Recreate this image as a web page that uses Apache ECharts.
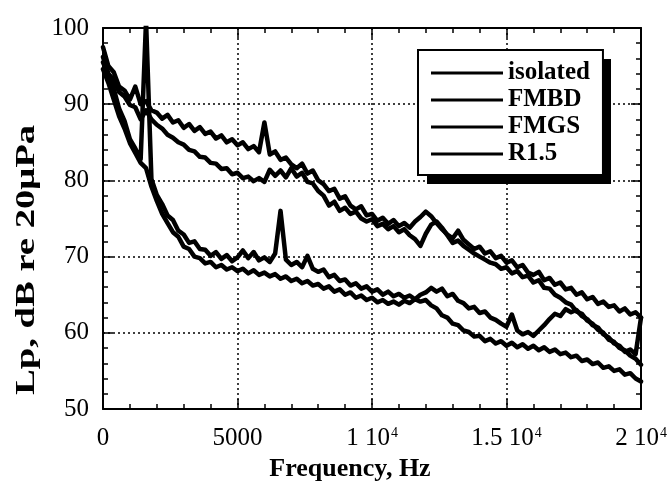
<!DOCTYPE html>
<html><head><meta charset="utf-8">
<script src="https://cdn.jsdelivr.net/npm/echarts@6/dist/echarts.min.js"></script>
<style>html,body{margin:0;padding:0;background:#fff}#c{width:672px;height:488px}</style>
</head><body><div id="c"></div>
<script>
const seriesNames = ['isolated', 'FMBD', 'FMGS', 'R1.5'];
const xTickLabels = ['0', '5000', '1 10^4', '1.5 10^4', '2 10^4'];
const yTickLabels = ['50', '60', '70', '80', '90', '100'];
const freqHz = [0,200,400,600,800,1000,1200,1400,1600,1800,2000,2200,2400,2600,2800,3000,3200,3400,3600,3800,
4000,4200,4400,4600,4800,5000,5200,5400,5600,5800,6000,6200,6400,6600,6800,7000,7200,7400,7600,7800,
8000,8200,8400,8600,8800,9000,9200,9400,9600,9800,10000,10200,10400,10600,10800,11000,11200,11400,11600,11800,
12000,12200,12400,12600,12800,13000,13200,13400,13600,13800,14000,14200,14400,14600,14800,15000,15200,15400,15600,15800,
16000,16200,16400,16600,16800,17000,17200,17400,17600,17800,18000,18200,18400,18600,18800,19000,19200,19400,19600,19800,20000];
const isolated = [97.5,95.0,94.2,92.3,91.8,90.6,92.3,90.0,90.4,89.2,88.9,88.1,88.6,87.6,87.9,86.9,87.4,86.5,87.0,86.1,
86.4,85.5,85.9,85.0,85.4,84.6,85.0,84.1,84.5,83.7,87.6,83.4,83.8,82.7,83.0,82.1,81.6,82.2,80.9,81.3,
80.0,79.5,78.6,78.9,77.6,77.9,76.7,76.2,76.6,75.4,75.6,74.7,75.1,74.3,74.8,74.0,74.4,73.8,74.6,75.2,
75.9,75.3,74.4,73.6,72.9,72.4,73.4,72.2,71.6,71.0,71.3,70.4,70.7,69.8,70.1,69.2,69.5,68.6,68.9,67.9,
67.6,68.0,66.9,67.2,66.3,66.6,65.7,65.9,65.0,65.3,64.4,64.7,63.8,64.1,63.4,63.6,62.8,63.2,62.4,62.7,62.0];
const fmbd = [96.2,94.0,93.2,91.6,91.0,89.9,89.6,88.0,89.2,88.0,87.3,86.8,86.0,85.6,85.0,84.7,84.0,83.8,83.1,83.0,
82.3,82.2,81.5,81.6,80.8,81.0,80.3,80.5,79.9,80.3,79.8,81.4,80.6,81.3,80.4,81.6,80.5,81.0,79.8,79.6,
78.6,78.0,76.7,77.2,76.0,76.4,75.6,75.9,75.0,74.6,74.9,74.0,74.3,73.6,74.0,73.2,73.6,72.8,72.3,71.4,
73.0,74.2,74.6,73.8,72.8,71.8,72.1,71.4,70.9,70.4,70.0,69.6,69.2,69.0,68.4,68.6,67.8,68.1,67.3,67.5,
66.6,66.9,65.9,65.8,65.0,64.6,64.0,63.7,62.8,62.5,61.6,61.2,60.4,60.0,59.1,58.8,58.0,57.7,57.0,56.6,55.8];
const fmgs = [95.5,93.8,92.0,89.4,87.8,85.4,84.2,82.8,101.0,80.2,78.1,76.9,75.4,74.8,73.4,72.9,71.8,72.0,71.0,70.9,
70.1,70.6,69.7,70.2,69.4,69.9,70.8,69.8,70.6,69.5,69.9,69.3,70.4,76.0,69.6,68.9,69.3,68.6,70.1,68.4,
68.0,68.3,67.3,67.6,66.8,67.0,66.2,66.5,65.8,66.1,65.4,65.7,65.0,65.4,64.8,65.1,64.6,64.9,64.4,65.0,
65.3,65.9,65.4,65.8,64.8,65.1,64.2,63.9,63.2,63.4,62.6,62.8,62.0,61.7,61.2,60.8,62.4,60.3,59.8,60.1,
59.6,60.3,61.0,61.8,62.5,62.2,63.1,62.7,63.0,62.2,61.8,61.0,60.7,59.8,59.4,58.6,58.3,57.5,57.8,57.2,62.0];
const r15 = [94.6,92.8,90.6,88.4,86.8,84.9,83.6,82.3,81.6,79.2,77.3,75.6,74.4,73.2,72.6,71.3,71.0,70.0,69.8,69.1,
69.3,68.6,68.9,68.3,68.6,68.1,68.4,67.8,68.2,67.6,67.9,67.4,67.7,67.1,67.4,66.8,67.1,66.5,66.8,66.2,
66.4,65.8,66.1,65.4,65.7,65.0,65.3,64.6,64.9,64.3,64.6,64.0,64.3,63.8,64.1,63.7,64.2,63.9,64.4,64.1,
64.3,63.6,63.2,62.3,62.0,61.2,61.0,60.3,60.1,59.5,59.6,58.9,59.2,58.6,58.9,58.3,58.7,58.1,58.5,57.9,
58.3,57.7,58.1,57.5,57.8,57.2,57.4,56.8,57.0,56.3,56.5,55.9,56.1,55.4,55.6,55.0,55.2,54.5,54.7,54.0,53.6];
const seriesValues = [isolated, fmbd, fmgs, r15];

const FONT = '"Liberation Serif", "Times New Roman", serif';
const chart = echarts.init(document.getElementById('c'), null, {renderer: 'canvas'});

function xLabel(v) {
  const idx = Math.round(v / 5000);
  const t = xTickLabels[idx];
  if (t === undefined) return '';
  if (t.indexOf('^') >= 0) {
    const parts = t.split('^');
    return '{b|' + parts[0] + '}{sup|' + parts[1] + '}';
  }
  return '{b|' + t + '}';
}
function yLabel(v) {
  const idx = Math.round((v - 50) / 10);
  return yTickLabels[idx] !== undefined ? yTickLabels[idx] : '';
}

const axisCommon = {
  axisLine: {show: true, onZero: false, lineStyle: {color: '#000', width: 2}},
  axisTick: {show: true, inside: true, length: 10, lineStyle: {color: '#000', width: 1.5}},
  minorTick: {show: true, splitNumber: 5, length: 5, lineStyle: {color: '#000', width: 1.5}}
};

chart.setOption({
  animation: false,
  backgroundColor: '#fff',
  grid: {left: 103, right: 31, top: 28, bottom: 79, containLabel: false},
  legend: {
    orient: 'vertical', left: 418, top: 50, z: 10,
    data: seriesNames,
    icon: 'rect', itemWidth: 72, itemHeight: 3, itemGap: 1,
    padding: [10, 13, 8, 13],
    backgroundColor: '#fff', borderColor: '#000', borderWidth: 2,
    textStyle: {fontFamily: FONT, fontWeight: 'bold', fontSize: 25, color: '#000', lineHeight: 26}
  },
  xAxis: [
    Object.assign({
      type: 'value', min: 0, max: 20000, interval: 5000, position: 'bottom',
      name: 'Frequency, Hz', nameLocation: 'middle', nameGap: 45,
      nameTextStyle: {fontFamily: FONT, fontWeight: 'bold', fontSize: 26, color: '#000', padding: [0, 44, 0, 0]},
      axisLabel: {
        margin: 17, color: '#000', fontFamily: FONT, fontSize: 25,
        formatter: xLabel,
        rich: {
          b: {fontFamily: FONT, fontSize: 25, color: '#000', verticalAlign: 'bottom'},
          sup: {fontFamily: FONT, fontSize: 14, color: '#000', verticalAlign: 'bottom', padding: [0, 0, 11, 1]}
        }
      },
      splitLine: {show: true, lineStyle: {color: '#000', width: 1.5, type: [2, 3]}}
    }, axisCommon),
    Object.assign({
      type: 'value', min: 0, max: 20000, interval: 5000, position: 'top',
      axisLabel: {show: false}, splitLine: {show: false}
    }, axisCommon)
  ],
  yAxis: [
    Object.assign({
      type: 'value', min: 50, max: 100, interval: 10, position: 'left',
      axisLabel: {margin: 14, color: '#000', fontFamily: FONT, fontSize: 25, formatter: yLabel},
      splitLine: {show: true, lineStyle: {color: '#000', width: 1.5, type: [2, 3]}}
    }, axisCommon),
    Object.assign({
      type: 'value', min: 50, max: 100, interval: 10, position: 'right',
      axisLabel: {show: false}, splitLine: {show: false}
    }, axisCommon)
  ],
  graphic: [{
    type: 'rect', z: 5, silent: true,
    shape: {x: 427, y: 59, width: 184, height: 125},
    style: {fill: '#000'}
  }, {
    type: 'text', x: 27, y: 260, rotation: Math.PI / 2, scaleX: 1.38, scaleY: 1,
    style: {
      text: 'Lp, dB re 20\u03bcPa', font: 'bold 28px ' + FONT, fill: '#000',
      textAlign: 'center', textVerticalAlign: 'middle', align: 'center', verticalAlign: 'middle'
    }
  }],
  series: seriesNames.map(function (name, k) {
    return {
      name: name, type: 'line', xAxisIndex: 0, yAxisIndex: 0,
      showSymbol: false, symbol: 'none', clip: true,
      lineStyle: {color: '#000', width: 4.5, join: 'round', cap: 'round'},
      itemStyle: {color: '#000'},
      data: freqHz.map(function (f, i) { return [f, seriesValues[k][i]]; })
    };
  })
});
</script>
</body></html>
